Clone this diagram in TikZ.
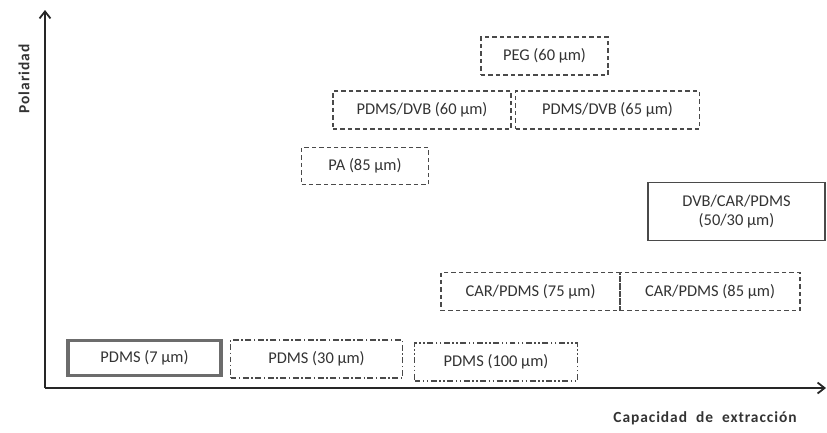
\documentclass[tikz,border=0pt]{standalone}
\usepackage{fontspec}
\setmainfont{Carlito}
\usetikzlibrary{arrows.meta}
\definecolor{txt}{HTML}{333333}
\definecolor{bord}{HTML}{4A4A4A}
\tikzset{
  box/.style={draw=bord, line width=1.9pt, minimum height=38bp, inner sep=0pt, text=txt, font=\fontsize{16.5}{19}\selectfont},
  dbox/.style={box, dash pattern=on 4.5pt off 3pt},
  ddbox/.style={box, dash pattern=on 6pt off 2.5pt on 1.5pt off 2.5pt},
  dddbox/.style={box, dash pattern=on 6pt off 2.5pt on 1.5pt off 2.5pt on 1.5pt off 2.5pt},
  sbox/.style={box},
  thickbox/.style={box, draw=gray!85!black, line width=3.5pt},
  axis/.style={draw=black!85, line width=1.8pt, -{Straight Barb[length=7pt,width=11pt]}},
  axlab/.style={text=txt, font=\bfseries\fontsize{15.5}{18}\selectfont\addfontfeature{LetterSpace=6}}
}
\begin{document}
\begin{tikzpicture}[x=1bp,y=-1bp]
\useasboundingbox (0,0) rectangle (827,432);
\coordinate (o) at (45,388);
\coordinate (ytop) at (45,10);
\coordinate (xend) at (826,388);
\draw[axis] (o) -- (ytop);
\draw[axis] (o) -- (xend);
\node[axlab, rotate=90] (ylab) at (24,79) {Polaridad};
\node[axlab] (xlab) at (705,418) {Capacidad\hspace{0.3em} de\hspace{0.3em} extracción};

\node[dbox, minimum width=127bp] (peg) at (544.5,56) {PEG (60 µm)};
\node[dbox, minimum width=178bp] (pd60) at (422,110) {PDMS/DVB (60 µm)};
\node[dbox, minimum width=184bp] (pd65) at (607.5,110) {PDMS/DVB (65 µm)};
\node[dbox, minimum width=127bp, minimum height=37bp] (pa) at (365,166) {PA (85 µm)};
\node[sbox, minimum width=177bp, minimum height=58bp, align=center] (dcp) at (736.5,211.5) {DVB/CAR/PDMS\\(50/30 µm)};
\node[dbox, minimum width=179bp] (cp75) at (530.5,291.5) {CAR/PDMS (75 µm)};
\node[dbox, minimum width=180bp] (cp85) at (710,291.5) {CAR/PDMS (85 µm)};
\node[thickbox, minimum width=153bp, minimum height=35bp] (p7) at (144.5,358) {PDMS (7 µm)};
\node[ddbox, minimum width=172bp] (p30) at (316.5,359) {PDMS (30 µm)};
\node[dddbox, minimum width=163bp] (p100) at (496,362) {PDMS (100 µm)};
\end{tikzpicture}
\end{document}
